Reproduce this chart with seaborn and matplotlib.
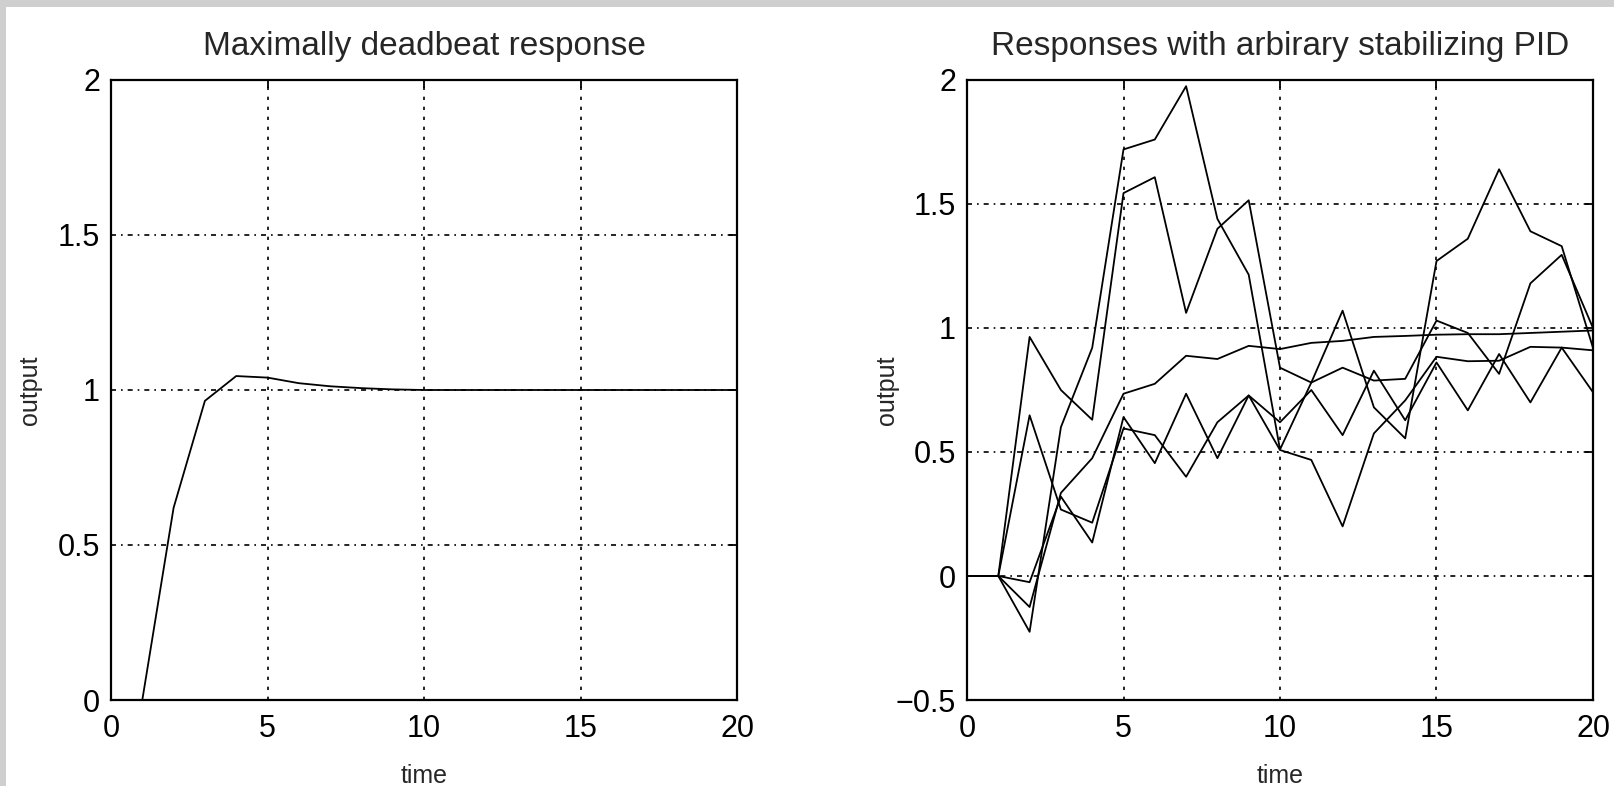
import numpy as np
import pandas as pd
import matplotlib
matplotlib.use("Agg")
import matplotlib.pyplot as plt
from matplotlib.patches import Rectangle
import seaborn as sns

# ---------------- data ----------------
time = list(range(0, 21))

deadbeat = [0, 0, 0.62, 0.965, 1.045, 1.04, 1.022, 1.012, 1.006, 1.002, 1.0,
            1.0, 1.0, 1.0, 1.0, 1.0, 1.0, 1.0, 1.0, 1.0, 1.0]

run_a = [0, 0, -0.225, 0.60, 0.92, 1.72, 1.76, 1.975, 1.44, 1.215, 0.51,
         0.78, 1.07, 0.68, 0.555, 1.27, 1.36, 1.64, 1.39, 1.33, 0.92]
run_b = [0, 0, 0.964, 0.75, 0.63, 1.544, 1.608, 1.061, 1.40, 1.515, 0.84,
         0.78, 0.84, 0.788, 0.795, 1.03, 0.98, 0.815, 1.18, 1.295, 1.0]
run_c = [0, 0, -0.125, 0.335, 0.475, 0.735, 0.775, 0.888, 0.875, 0.928, 0.915,
         0.94, 0.948, 0.964, 0.968, 0.973, 0.975, 0.975, 0.98, 0.985, 0.99]
run_d = [0, 0, 0.648, 0.268, 0.215, 0.595, 0.568, 0.40, 0.62, 0.728, 0.62,
         0.75, 0.568, 0.828, 0.628, 0.861, 0.668, 0.895, 0.70, 0.921, 0.741]
run_e = [0, 0, -0.025, 0.32, 0.135, 0.641, 0.455, 0.735, 0.475, 0.728, 0.508,
         0.468, 0.2, 0.575, 0.708, 0.884, 0.866, 0.868, 0.924, 0.921, 0.91]

x_ticks = [0, 5, 10, 15, 20]
left_y_ticks = [0, 0.5, 1, 1.5, 2]
left_y_labels = ["0", "0.5", "1", "1.5", "2"]
right_y_ticks = [-0.5, 0, 0.5, 1, 1.5, 2]
right_y_labels = ["\u22120.5", "0", "0.5", "1", "1.5", "2"]

title_left = "Maximally deadbeat response"
title_right = "Responses with arbirary stabilizing PID"

# ---------------- style ----------------
sns.set_style("white")
plt.rcParams['font.family'] = ['Liberation Sans', 'DejaVu Sans']
FS_TITLE = 24
FS_TICK = 22
FS_LABEL = 18

W, H = 1614, 786
fig = plt.figure(figsize=(W / 100, H / 100), dpi=100, facecolor='#cfcfcf')
fig.add_artist(Rectangle((6 / W, 0), 1, 1 - 7 / H, transform=fig.transFigure,
                         facecolor='white', edgecolor='none', zorder=-5))

ax1 = fig.add_axes([111 / W, 86 / H, 626 / W, 620 / H])
ax2 = fig.add_axes([967 / W, 86 / H, 626 / W, 620 / H])

df_left = pd.DataFrame({"time": time, "output": deadbeat})
sns.lineplot(data=df_left, x="time", y="output", ax=ax1, color="black",
             linewidth=1.3, zorder=3)

runs = {"a": run_a, "b": run_b, "c": run_c, "d": run_d, "e": run_e}
df_right = pd.concat([pd.DataFrame({"time": time, "output": v, "run": k})
                      for k, v in runs.items()], ignore_index=True)
sns.lineplot(data=df_right, x="time", y="output", units="run", estimator=None,
             ax=ax2, color="black", linewidth=1.3, zorder=3)

for ax, yt, yl, ylim, title, ylx in [
        (ax1, left_y_ticks, left_y_labels, (0, 2), title_left, -0.110),
        (ax2, right_y_ticks, right_y_labels, (-0.5, 2), title_right, -0.109)]:
    ax.set_facecolor('white')
    ax.set_xlim(0, 20)
    ax.set_ylim(*ylim)
    ax.set_xticks(x_ticks)
    ax.set_xticklabels([str(v) for v in x_ticks])
    ax.set_yticks(yt)
    ax.set_yticklabels(yl)
    ax.tick_params(direction='in', length=6, width=1.3, top=True, right=True,
                   labelsize=FS_TICK, colors='black')
    ax.tick_params(axis='x', pad=10)
    ax.tick_params(axis='y', pad=8)
    for s in ax.spines.values():
        s.set_visible(True)
        s.set_color('black')
        s.set_linewidth(1.6)
    # MATLAB-like grid
    for v in yt[1:-1]:
        ax.axhline(v, color='black', linewidth=1.2,
                   linestyle=(0, (3, 3, 1, 3)), zorder=1)
    for v in x_ticks[1:-1]:
        ax.axvline(v, color='black', linewidth=1.2,
                   linestyle=(0, (2, 4)), zorder=1)
    ax.set_xlabel("time", fontsize=FS_LABEL)
    ax.xaxis.set_label_coords(0.5, -0.103)
    ax.set_ylabel("output", fontsize=FS_LABEL)
    ax.yaxis.set_label_coords(ylx, 0.5)
    ax.set_title(title, fontsize=FS_TITLE, pad=18)

fig.savefig("out.png", dpi=100, facecolor=fig.get_facecolor())
